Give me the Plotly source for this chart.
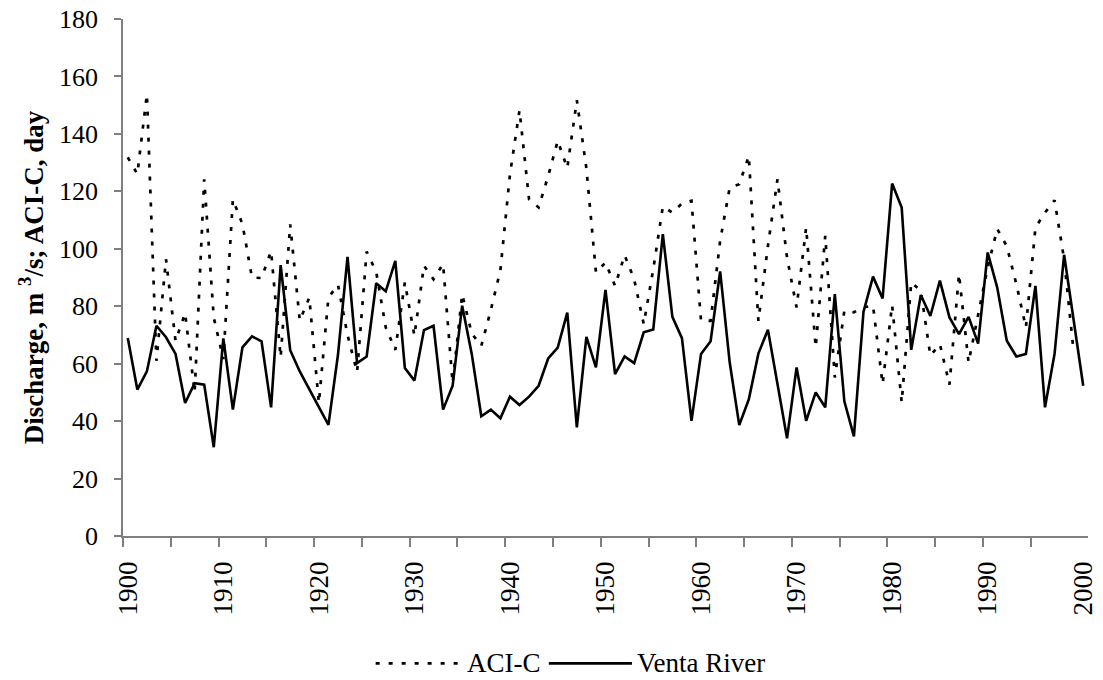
import plotly.graph_objects as go

years = list(range(1900, 2001))

# Venta River discharge, m3/s
venta = [
    68.9, 51.0, 57.3, 73.2, 69.2, 63.4, 46.3, 53.2, 52.7, 30.9,
    68.8, 44.0, 65.7, 69.5, 67.8, 44.8, 94.3, 64.7, 57.3, 51.0,
    44.8, 38.7, 63.1, 97.2, 60.2, 62.5, 88.0, 85.2, 95.8, 58.5,
    54.1, 71.7, 73.2, 44.0, 52.3, 80.2, 63.4, 41.7, 44.0, 41.0,
    48.5, 45.6, 48.5, 52.3, 61.8, 65.6, 77.8, 37.8, 69.3, 58.7,
    85.7, 56.4, 62.5, 60.2, 70.9, 71.9, 105.1, 76.3, 68.9, 40.1,
    63.4, 67.8, 92.1, 60.4, 38.6, 47.6, 63.5, 71.8, 52.9, 34.0,
    58.7, 40.1, 50.0, 44.8, 84.2, 46.9, 34.7, 78.0, 90.3, 82.7,
    122.7, 114.4, 64.8, 83.9, 76.6, 88.9, 76.1, 70.3, 76.3, 67.0,
    98.7, 86.5, 68.0, 62.5, 63.4, 87.1, 44.8, 63.4, 97.9, 75.5,
    52.3,
]

# ACI-C index, days (no value for 2000)
aci_c = [
    131.8, 126.0, 153.8, 61.0, 96.4, 67.9, 77.6, 50.0, 124.2, 76.0,
    61.6, 117.2, 108.6, 90.0, 89.8, 99.2, 62.2, 108.5, 75.0, 83.0,
    46.3, 83.0, 87.5, 70.0, 57.0, 99.0, 92.0, 72.6, 64.8, 88.3,
    69.7, 94.1, 89.4, 94.7, 53.2, 84.2, 70.5, 66.2, 78.7, 92.6,
    125.9, 148.2, 117.2, 114.4, 125.3, 137.6, 128.1, 151.7, 128.0, 91.8,
    95.2, 87.1, 97.8, 89.4, 73.8, 92.9, 114.7, 112.6, 115.8, 116.7,
    74.9, 74.9, 102.8, 121.3, 122.5, 132.3, 74.9, 101.0, 124.2, 96.9,
    79.6, 107.4, 65.7, 104.5, 55.2, 78.4, 77.9, 79.6, 80.2, 52.9,
    80.4, 46.5, 88.3, 85.4, 62.8, 66.8, 52.7, 91.2, 60.4, 77.3,
    93.5, 106.9, 100.9, 87.7, 72.6, 107.4, 112.6, 116.9, 96.4, 64.0,
    None,
]

series_names = ["ACI-C", "Venta River"]
x_labels = list(range(1900, 2001, 10))
x_tick_marks = [y - 0.5 for y in range(1900, 2000, 5)]  # category boundaries
y_ticks = list(range(0, 181, 20))

serif = "Liberation Serif, Times New Roman, serif"
axis_grey = "#7f7f7f"
dotted = "4px,9px"

fig = go.Figure()
fig.add_trace(go.Scatter(
    x=years, y=aci_c, name=series_names[0], mode="lines", showlegend=False,
    line=dict(color="black", width=2.7, dash=dotted),
))
fig.add_trace(go.Scatter(
    x=years, y=venta, name=series_names[1], mode="lines", showlegend=False,
    line=dict(color="black", width=2.6),
))

# Legend row below the axis: line sample followed by its label
legend_y = -0.2464
legend_items = [
    (0.2618, 0.3510, dotted, series_names[0]),
    (0.4413, 0.5274, "solid", series_names[1]),
]
for x0, x1, dash, label in legend_items:
    fig.add_shape(
        type="line", xref="paper", yref="paper",
        x0=x0, x1=x1, y0=legend_y, y1=legend_y,
        line=dict(color="black", width=2.7 if dash != "solid" else 2.6, dash=dash),
    )
    fig.add_annotation(
        xref="paper", yref="paper", x=x1 + 0.003, y=legend_y,
        xanchor="left", yanchor="middle", showarrow=False,
        text=label, font=dict(family=serif, size=27, color="black"),
    )

fig.update_layout(
    width=1103, height=680,
    margin=dict(l=123, r=5, t=18, b=144, pad=0),
    paper_bgcolor="white", plot_bgcolor="white",
    font=dict(family=serif, size=26, color="black"),
    showlegend=False,
)

fig.update_xaxes(
    range=[1899.5, 2000.5],
    tickmode="array", tickvals=x_labels, ticktext=[str(t) for t in x_labels],
    tickangle=-90, ticks="outside", ticklen=9, tickcolor="rgba(0,0,0,0)",
    ticklabelstandoff=4, ticklabeloverflow="allow",
    minor=dict(
        tickmode="array", tickvals=x_tick_marks, ticks="outside",
        ticklen=9, tickcolor=axis_grey, tickwidth=1.5, showgrid=False,
    ),
    showgrid=False, zeroline=False,
    showline=True, linecolor=axis_grey, linewidth=1.5,
    tickfont=dict(family=serif, size=27, color="black"),
)
fig.update_yaxes(
    range=[0, 180],
    tickmode="array", tickvals=y_ticks,
    ticks="outside", ticklen=7, tickcolor=axis_grey, tickwidth=1.5,
    ticklabelstandoff=11,
    showgrid=False, zeroline=False,
    showline=True, linecolor=axis_grey, linewidth=1.5,
    tickfont=dict(family=serif, size=26, color="black"),
    title=dict(
        text="<b>Discharge, m <sup>3</sup>/s; ACI-C, day</b>",
        font=dict(family=serif, size=27, color="black"),
        standoff=8,
    ),
)

fig.write_html("out.html")
